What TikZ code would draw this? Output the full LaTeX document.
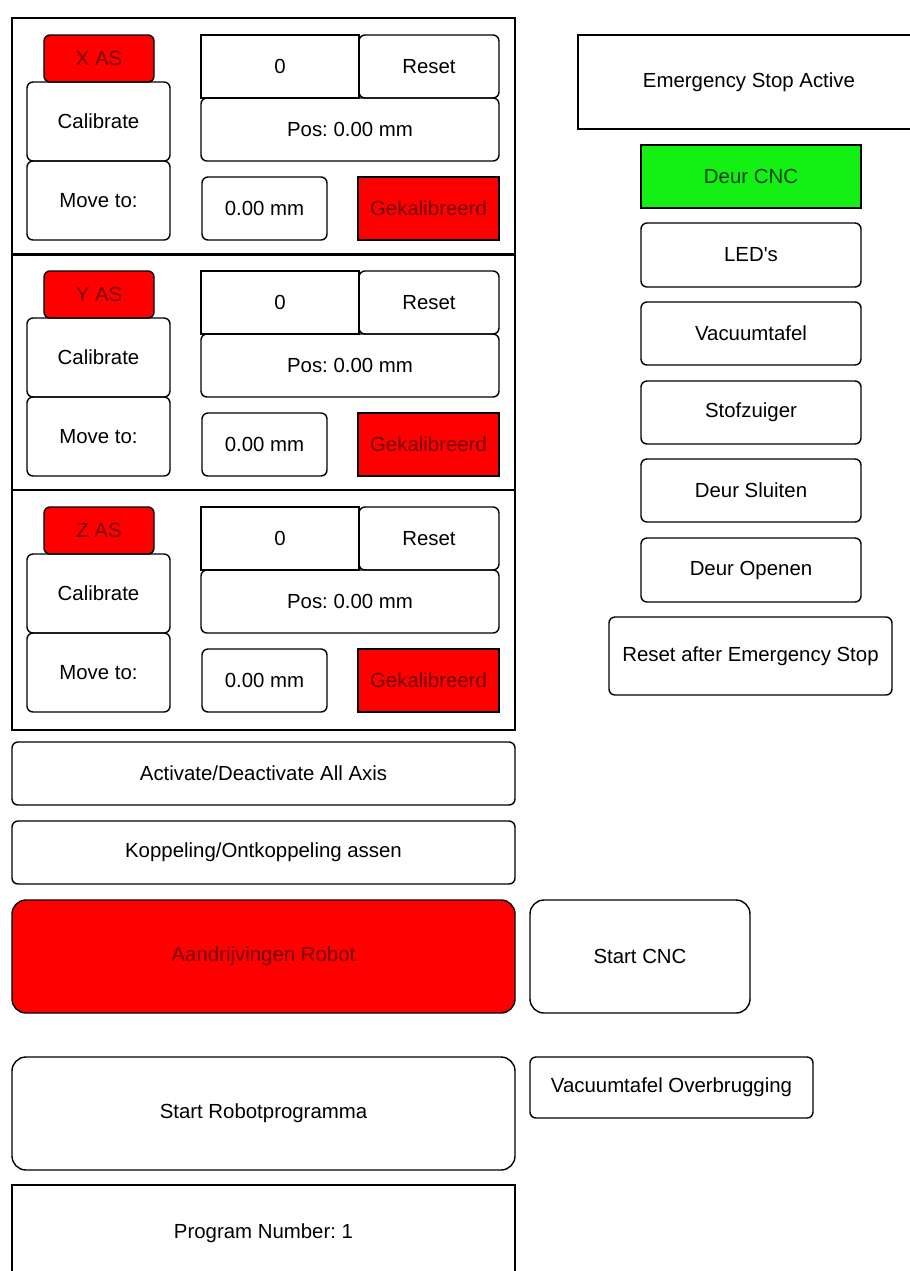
\documentclass[tikz,border=0pt]{standalone}
\usepackage{fontspec}
\setmainfont{Liberation Sans}
\frenchspacing
\definecolor{alarmred}{RGB}{255,0,0}
\definecolor{okgreen}{RGB}{20,240,20}
\tikzset{
  panel/.style={draw, line width=0.7pt, inner sep=0pt, font=\fontsize{10.2}{12}\selectfont},
  btn/.style={panel, rounded corners=3pt},
  bigbtn/.style={panel, rounded corners=7pt},
  flat/.style={panel},
  alarm/.style={fill=alarmred, text=red!45!black},
  okay/.style={fill=okgreen, text=green!25!black}
}
% \uibox[style]{name}{left}{top}{right}{bottom}{text}, in screen pixels
\newcommand\uibox[7][]{%
  \node[#1, minimum width={((#5)-(#3))*0.5pt}, minimum height={((#6)-(#4))*0.5pt}]
    (#2) at ({((#3)+(#5))/2},{((#4)+(#6))/2}) {#7};}
\begin{document}
\begin{tikzpicture}[x=0.5pt, y=-0.5pt]
\clip (0,0) rectangle (910,1271);
\fill[white] (0,0) rectangle (910,1271);

% axis panels
\foreach \ax/\dy/\bot in {X/0/255, Y/236/490, Z/472/730} {
  \uibox[flat]{sec\ax}{12}{18+\dy}{515}{\bot}{}
  \uibox[btn, alarm]{as\ax}{44}{35+\dy}{154}{82+\dy}{\ax\ AS}
  \uibox[btn]{cal\ax}{27}{82+\dy}{170}{161+\dy}{Calibrate}
  \uibox[btn]{move\ax}{27}{161+\dy}{170}{240+\dy}{Move to:}
  \uibox[flat]{cnt\ax}{201}{35+\dy}{359}{98+\dy}{0}
  \uibox[btn]{rst\ax}{359}{35+\dy}{499}{98+\dy}{Reset}
  \uibox[btn]{pos\ax}{201}{98+\dy}{499}{161+\dy}{Pos: 0.00 mm}
  \uibox[btn]{goal\ax}{202}{177+\dy}{327}{240+\dy}{0.00 mm}
  \uibox[flat, alarm]{kal\ax}{358}{177+\dy}{499}{240+\dy}{Gekalibreerd}
}

% lower buttons
\uibox[btn]{activate}{12}{742}{515}{805}{Activate/Deactivate All Axis}
\uibox[btn]{koppel}{12}{821}{515}{884}{Koppeling/Ontkoppeling assen}
\uibox[bigbtn, alarm]{drive}{12}{900}{515}{1013}{Aandrijvingen Robot}
\uibox[bigbtn]{startcnc}{530}{900}{750}{1013}{Start CNC}
\uibox[bigbtn]{startrobot}{12}{1057}{515}{1170}{Start Robotprogramma}
\uibox[btn]{bypass}{530}{1057}{813}{1118}{Vacuumtafel Overbrugging}
\uibox[flat]{prognr}{12}{1185}{515}{1282}{Program Number: 1}

% right column
\uibox[flat]{estop}{578}{35}{920}{129}{Emergency Stop Active}
\uibox[flat, okay]{door}{641}{145}{861}{208}{Deur CNC}
\uibox[btn]{leds}{641}{223}{861}{287}{LED\textquotesingle s}
\uibox[btn]{vacuum}{641}{302}{861}{365}{Vacuumtafel}
\uibox[btn]{stof}{641}{381}{861}{444}{Stofzuiger}
\uibox[btn]{close}{641}{459}{861}{522}{Deur Sluiten}
\uibox[btn]{open}{641}{538}{861}{602}{Deur Openen}
\uibox[btn]{reset}{609}{617}{892}{695}{Reset after Emergency Stop}
\end{tikzpicture}
\end{document}
